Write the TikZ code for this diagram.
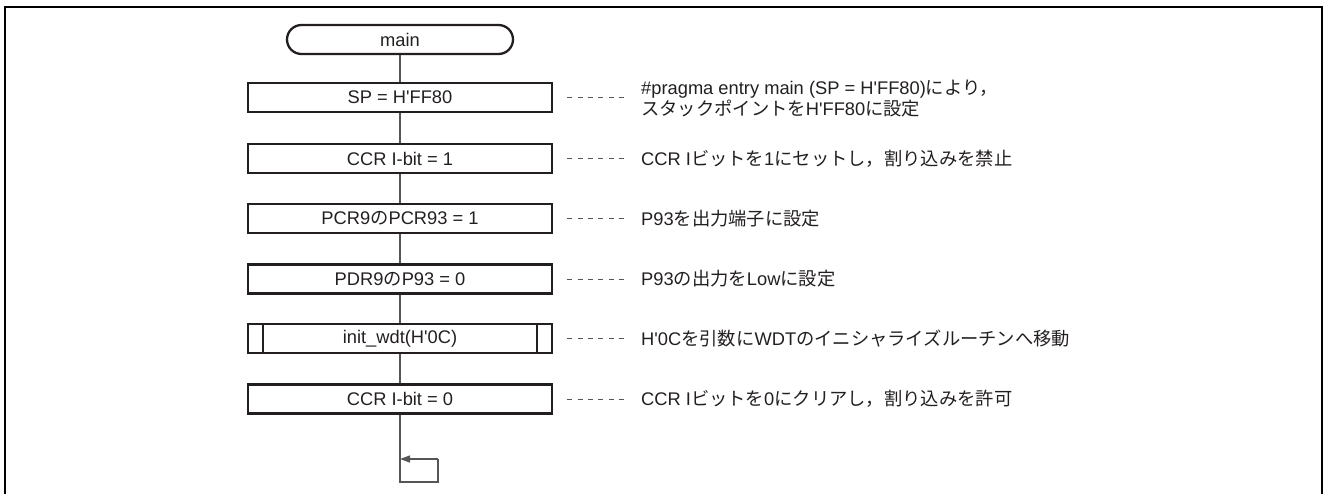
\documentclass[tikz,border=0pt]{standalone}
\usepackage{fontspec}
\setmainfont{Liberation Sans}
\newfontfamily\jpf{Noto Sans CJK JP}
\newcommand\J[1]{{\jpf #1}}
\newcommand\q{\textquotesingle}
\usetikzlibrary{arrows.meta}
\definecolor{ink}{HTML}{231F20}
\definecolor{linegray}{HTML}{555555}
\begin{document}
\begin{tikzpicture}[x=1pt,y=-1pt,
  every node/.style={font=\fontsize{18.3}{21}\selectfont, text=ink},
  procbox/.style={draw=ink, line width=2.3pt, minimum width=304pt, minimum height=29pt, inner sep=0pt},
  term/.style={procbox, minimum width=226pt, rounded corners=14.5pt},
  flow/.style={draw=linegray, line width=1.3pt},
  leader/.style={draw=linegray, line width=1pt, dash pattern=on 5pt off 5.4pt},
  note/.style={anchor=west, inner sep=0pt, align=left}]
\useasboundingbox (0,0) rectangle (1324,493);
\draw[line width=2.2pt, black] (5,496) -- (5,7) -- (1322,7) -- (1322,496);

\node[term] (main) at (400,39.5) {main};
\node[procbox] (sp) at (400,97.5) {SP = H\q FF80};
\node[procbox] (ccr1) at (400,158.5) {CCR I-bit = 1};
\node[procbox] (pcr) at (400,218.5) {PCR9\J{の}PCR93 = 1};
\node[procbox] (pdr) at (400,279) {PDR9\J{の}P93 = 0};
\node[procbox] (wdt) at (400,338.5) {init\_wdt(H\q 0C)};
\node[procbox] (ccr0) at (400,399) {CCR I-bit = 0};
\draw[ink, line width=2.3pt] ([xshift=16pt]wdt.north west) -- ([xshift=16pt]wdt.south west);
\draw[ink, line width=2.3pt] ([xshift=-16pt]wdt.north east) -- ([xshift=-16pt]wdt.south east);

\coordinate (lb) at (400,482);
\coordinate (lbr) at (438,482);
\coordinate (ltr) at (438,459);
\coordinate (ltl) at (400,459);

\draw[flow] (main) -- (sp);
\draw[flow] (sp) -- (ccr1);
\draw[flow] (ccr1) -- (pcr);
\draw[flow] (pcr) -- (pdr);
\draw[flow] (pdr) -- (wdt);
\draw[flow] (wdt) -- (ccr0);
\draw[flow] (ccr0) -- (lb) -- (lbr) -- (ltr);
\draw[flow, -{Triangle[length=10pt,width=7pt]}] (ltr) -- (ltl);

\node[note] (n1) at (641,99) {\#pragma entry main (SP = H\q FF80)\J{により，}\\\J{スタックポイントを}H\q FF80\J{に設定}};
\node[note] (n2) at (641,158.5) {CCR I\J{ビットを}1\J{にセットし，割り込みを禁止}};
\node[note] (n3) at (641,218.5) {P93\J{を出力端子に設定}};
\node[note] (n4) at (641,279) {P93\J{の出力を}Low\J{に設定}};
\node[note] (n5) at (641,338.5) {H\q 0C\J{を引数に}WDT\J{のイニシャライズルーチンへ移動}};
\node[note] (n6) at (641,399) {CCR I\J{ビットを}0\J{にクリアし，割り込みを許可}};

\foreach \b in {sp,ccr1,pcr,pdr,wdt,ccr0}
  \draw[leader] ([xshift=14pt]\b.east) -- ([xshift=71pt]\b.east);
\end{tikzpicture}
\end{document}
